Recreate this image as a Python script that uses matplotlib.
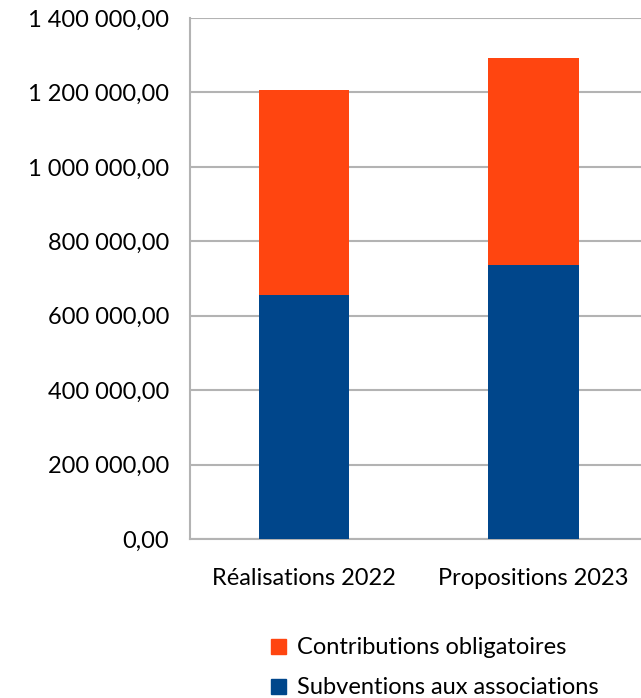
import matplotlib.pyplot as plt
from matplotlib.ticker import FuncFormatter
from matplotlib.patches import Patch

categories = ['Réalisations 2022', 'Propositions 2023']
subventions = [655000, 736500]
contributions = [552000, 556500]
yticks = [0, 200000, 400000, 600000, 800000, 1000000, 1200000, 1400000]

blue = '#00468b'
orange = '#ff4510'
grid = '#b3b3b3'

plt.rcParams['font.family'] = ['Lato', 'DejaVu Sans']

fig = plt.figure(figsize=(6.41, 6.98), dpi=100)
ax = fig.add_axes([190/641, 1-539/698, 451/641, 521/698])

x = range(len(categories))
ax.bar(x, subventions, width=0.395, color=blue, zorder=3)
ax.bar(x, contributions, width=0.395, bottom=subventions, color=orange, zorder=3)

ax.set_ylim(0, 1400000)
ax.set_xlim(-0.498, 1.47)
ax.set_yticks(yticks)

def fmt(v, pos):
    s = '{:,.2f}'.format(v)
    s = s.replace(',', ' ').replace('.', ',')
    return s

ax.yaxis.set_major_formatter(FuncFormatter(fmt))
ax.set_xticks(list(x))
ax.set_xticklabels(categories)
ax.tick_params(axis='both', length=0, labelsize=17, colors='#000000')
ax.tick_params(axis='y', pad=15)
ax.tick_params(axis='x', pad=21)
ax.yaxis.grid(True, color=grid, linewidth=1.5, zorder=0)
for s in ['top', 'right']:
    ax.spines[s].set_visible(False)
for s in ['left', 'bottom']:
    ax.spines[s].set_color(grid)
    ax.spines[s].set_linewidth(1.5)

handles = [Patch(color=orange, label='Contributions obligatoires'),
           Patch(color=blue, label='Subventions aux associations')]
fig.legend(handles=handles, loc='upper left', bbox_to_anchor=(262/641, 1-628/698),
           frameon=False, fontsize=17, handlelength=0.6, handleheight=0.6,
           handletextpad=0.5, labelspacing=0.8, borderaxespad=0)

fig.savefig('out.png', dpi=100)
